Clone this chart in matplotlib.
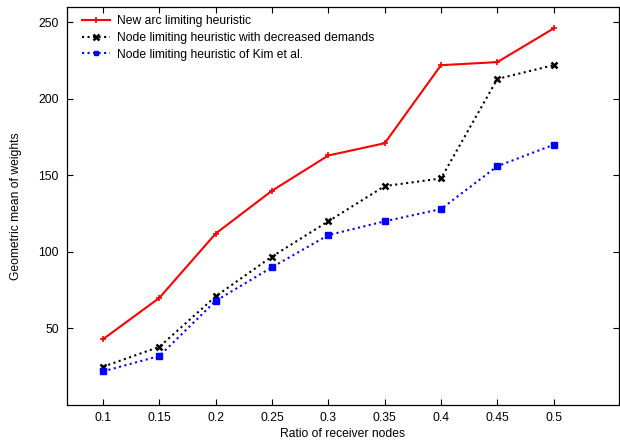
import matplotlib
matplotlib.use("Agg")
import matplotlib.pyplot as plt

# ==================== Data ====================
ratio = [0.1, 0.15, 0.2, 0.25, 0.3, 0.35, 0.4, 0.45, 0.5]
arc_limit = [43, 70, 112, 140, 163, 171, 222, 224, 246]
node_decreased = [25, 38, 71, 97, 120, 143, 148, 213, 222]
node_kim = [22, 32, 68, 90, 111, 120, 128, 156, 170]

plt.rcParams['font.family'] = ['Liberation Sans', 'DejaVu Sans']
plt.rcParams['font.size'] = 8.7

# ==================== Plot ====================
fig = plt.figure(figsize=(6.2, 4.4), dpi=100)
ax = fig.add_axes([67 / 620, 35 / 440, 552 / 620, 398 / 440])

ax.plot(ratio, arc_limit, color='red', linewidth=1.5, marker='+',
        markersize=5, markeredgewidth=1.2, label='New arc limiting heuristic')
ax.plot(ratio, node_decreased, color='black', linewidth=1.5, linestyle=':',
        marker='x', markersize=5, markeredgewidth=1.8,
        label='Node limiting heuristic with decreased demands')
ax.plot(ratio, node_kim, color='blue', linewidth=1.5, linestyle=':',
        marker='s', markersize=4, label='Node limiting heuristic of Kim et al.')

ax.set_xlim(0.068, 0.558)
ax.set_ylim(0, 260)
ax.set_xticks(ratio)
ax.set_xticklabels(['0.1', '0.15', '0.2', '0.25', '0.3', '0.35', '0.4', '0.45', '0.5'])
ax.set_yticks([50, 100, 150, 200, 250])
ax.tick_params(axis='both', direction='in', top=True, right=True, length=4, width=0.8)
ax.tick_params(axis='x', pad=5)
ax.tick_params(axis='y', pad=6)
for s in ax.spines.values():
    s.set_linewidth(0.9)

ax.set_xlabel('Ratio of receiver nodes', labelpad=3)
ax.set_ylabel('Geometric mean of weights', labelpad=12)

ax.legend(loc='upper left', frameon=False, handlelength=2.3, borderaxespad=0.2,
          borderpad=0.5, labelspacing=0.38, handletextpad=0.55, markerscale=0.8,
          bbox_to_anchor=(0.012, 1.0))

fig.savefig('out.png', dpi=100)
